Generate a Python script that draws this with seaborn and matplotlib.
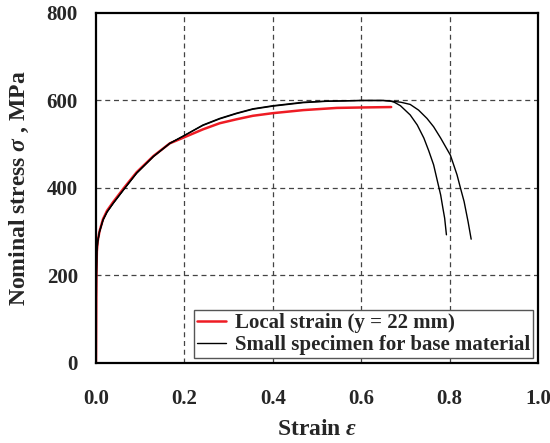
import matplotlib
matplotlib.use("Agg")
import matplotlib.pyplot as plt
from matplotlib.lines import Line2D
import seaborn as sns
import pandas as pd

# Local strain measured at y = 22 mm
local_strain = [0.0, 0.001, 0.002, 0.004, 0.008, 0.016, 0.025, 0.039, 0.064, 0.092,
                0.130, 0.167, 0.200, 0.242, 0.280, 0.318, 0.355, 0.400, 0.469,
                0.545, 0.600, 0.668]
local_stress = [0, 200, 255, 279, 301, 329, 348, 368, 401, 436,
                473, 502, 516, 534, 548, 557, 565, 571, 578,
                583, 584, 585]

# Small specimen for base material, test 1
base1_strain = [0.0, 0.001, 0.002, 0.004, 0.008, 0.016, 0.025, 0.039, 0.064, 0.092,
                0.130, 0.167, 0.200, 0.242, 0.280, 0.318, 0.355, 0.400, 0.469,
                0.520, 0.600, 0.650, 0.665, 0.675, 0.689, 0.711, 0.727, 0.742,
                0.753, 0.764, 0.773, 0.780, 0.785, 0.789, 0.793]
base1_stress = [0, 200, 255, 278, 300, 327, 345, 365, 398, 434,
                472, 502, 520, 544, 559, 571, 581, 588, 596,
                598.5, 600, 600, 599, 596, 588, 567, 544, 514,
                485, 453, 414, 384, 354, 331, 293]

# Small specimen for base material, test 2
base2_strain = [0.0, 0.001, 0.002, 0.004, 0.008, 0.016, 0.025, 0.039, 0.064, 0.092,
                0.130, 0.167, 0.200, 0.242, 0.280, 0.318, 0.355, 0.400, 0.469,
                0.520, 0.600, 0.650, 0.673, 0.690, 0.711, 0.730, 0.749, 0.764,
                0.780, 0.802, 0.817, 0.825, 0.833, 0.842, 0.849]
base2_stress = [0, 200, 255, 278, 300, 327, 345, 365, 398, 434,
                472, 502, 520, 543, 558, 570, 580, 587, 595,
                598, 600, 600, 598, 596, 591, 578, 559, 540,
                514, 475, 430, 399, 369, 323, 283]

x_ticks = [0.0, 0.2, 0.4, 0.6, 0.8, 1.0]
y_ticks = [0, 200, 400, 600, 800]
label_local = "Local strain (y = 22 mm)"
label_base = "Small specimen for base material"

sns.set_theme(style="white")
plt.rcParams["font.family"] = ["Liberation Serif", "DejaVu Serif"]
plt.rcParams["font.weight"] = "bold"
plt.rcParams["mathtext.fontset"] = "custom"
plt.rcParams["mathtext.rm"] = "Liberation Serif:bold"
plt.rcParams["mathtext.it"] = "Liberation Serif:italic:bold"
plt.rcParams["mathtext.bf"] = "Liberation Serif:bold"

df_local = pd.DataFrame({"strain": local_strain, "stress": local_stress})
df_b1 = pd.DataFrame({"strain": base1_strain, "stress": base1_stress})
df_b2 = pd.DataFrame({"strain": base2_strain, "stress": base2_stress})

fig = plt.figure(figsize=(5.5, 4.43), dpi=100)
ax = fig.add_axes([0.1745, 0.1806, 0.8035, 0.7901])

line_kw = dict(ax=ax, sort=False, estimator=None, legend=False,
               solid_joinstyle="round", solid_capstyle="round")
# red curve underneath, base-material curves on top
sns.lineplot(data=df_local, x="strain", y="stress", color="#ee1c24", linewidth=1.8, **line_kw)
sns.lineplot(data=df_b1, x="strain", y="stress", color="black", linewidth=1.0, **line_kw)
sns.lineplot(data=df_b2, x="strain", y="stress", color="black", linewidth=1.0, **line_kw)

ax.set_xlim(0, 1.0)
ax.set_ylim(0, 800)
ax.set_xticks(x_ticks)
ax.set_yticks(y_ticks)
ax.set_xticklabels([f"{v:.1f}" for v in x_ticks])
ax.set_yticklabels([str(v) for v in y_ticks])
ax.tick_params(axis="x", length=0, pad=19, labelsize=15)
ax.tick_params(axis="y", length=0, pad=13, labelsize=15)
for lab in ax.get_xticklabels() + ax.get_yticklabels():
    lab.set_fontweight("bold")

# dashed grid at the inner tick positions
for v in x_ticks[1:-1]:
    ax.axvline(v, color="#444444", linewidth=0.9, linestyle=(0, (4, 3)), zorder=0)
for v in y_ticks[1:-1]:
    ax.axhline(v, color="#444444", linewidth=0.9, linestyle=(0, (4, 3)), zorder=0)

for sp in ax.spines.values():
    sp.set_color("black")
    sp.set_linewidth(1.6)

ax.set_xlabel(r"Strain $\varepsilon$", fontsize=17, fontweight="bold", labelpad=7)
ax.set_ylabel(r"Nominal stress $\sigma$ , MPa", fontsize=17, fontweight="bold", labelpad=11)

handles = [Line2D([], [], color="#ee1c24", linewidth=1.8),
           Line2D([], [], color="black", linewidth=1.0)]
leg = ax.legend(handles, [label_local, label_base], loc="lower right",
                bbox_to_anchor=(0.989, 0.014), borderaxespad=0,
                prop={"family": "Liberation Serif", "weight": "bold", "size": 15},
                handlelength=1.4, handletextpad=0.4, borderpad=0.15,
                labelspacing=0.1, fancybox=False, framealpha=1,
                edgecolor="#555555")
leg.get_frame().set_linewidth(1.0)

fig.savefig("out.png", dpi=100)
